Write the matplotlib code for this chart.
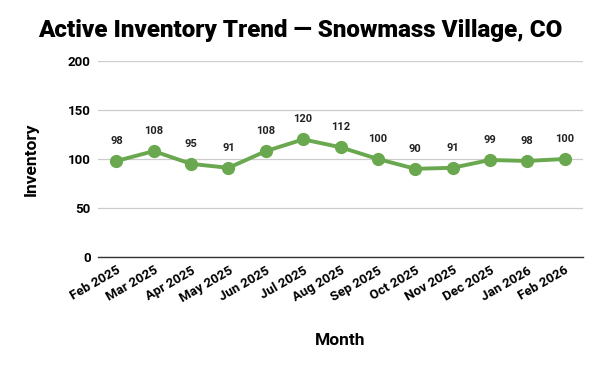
import matplotlib
matplotlib.use("Agg")
import matplotlib.pyplot as plt

months = ["Feb 2025", "Mar 2025", "Apr 2025", "May 2025", "Jun 2025", "Jul 2025",
          "Aug 2025", "Sep 2025", "Oct 2025", "Nov 2025", "Dec 2025", "Jan 2026", "Feb 2026"]
inventory = [98, 108, 95, 91, 108, 120, 112, 100, 90, 91, 99, 98, 100]
yticks = [0, 50, 100, 150, 200]

plt.rcParams['font.family'] = ['Roboto', 'DejaVu Sans']
fig = plt.figure(figsize=(6, 3.71), dpi=100)
ax = fig.add_axes([0.163, 0.3073, 0.809, 0.5283])

x = list(range(len(months)))
green = "#6aa84f"
ax.plot(x, inventory, color=green, linewidth=2.8, marker='o', markersize=8.5, zorder=3)
for xi, v in zip(x, inventory):
    ax.annotate(str(v), (xi, v), xytext=(0, 11), textcoords='offset points',
                ha='center', va='bottom', fontsize=8, fontweight='bold', color='#222222')

ax.set_xlim(-0.5, len(months) - 0.5)
ax.set_ylim(0, 200)
ax.set_yticks(yticks)
ax.set_yticklabels([str(t) for t in yticks], fontsize=9.5, fontweight='bold')
ax.set_xticks(x)
ax.set_xticklabels(months, rotation=30, ha='right', rotation_mode='anchor', fontsize=9.5, fontweight='bold')
ax.tick_params(axis='both', length=0, pad=5)
ax.grid(axis='y', color='#cccccc', linewidth=0.9)
ax.set_axisbelow(True)
for s in ['top', 'right', 'left']:
    ax.spines[s].set_visible(False)
ax.spines['bottom'].set_color('#333333')
ax.spines['bottom'].set_linewidth(1)

fig.text(0.052, 0.57, "Inventory", fontsize=12.5, fontweight='bold', ha='center', va='center', rotation=90)
fig.text(0.567, 0.081, "Month", fontsize=12.5, fontweight='bold', ha='center', va='center')
fig.text(0.5, 0.918, "Active Inventory Trend — Snowmass Village, CO", fontsize=17.4,
         fontweight='black', ha='center', va='center')

fig.savefig("out.png", dpi=100, facecolor='white')
